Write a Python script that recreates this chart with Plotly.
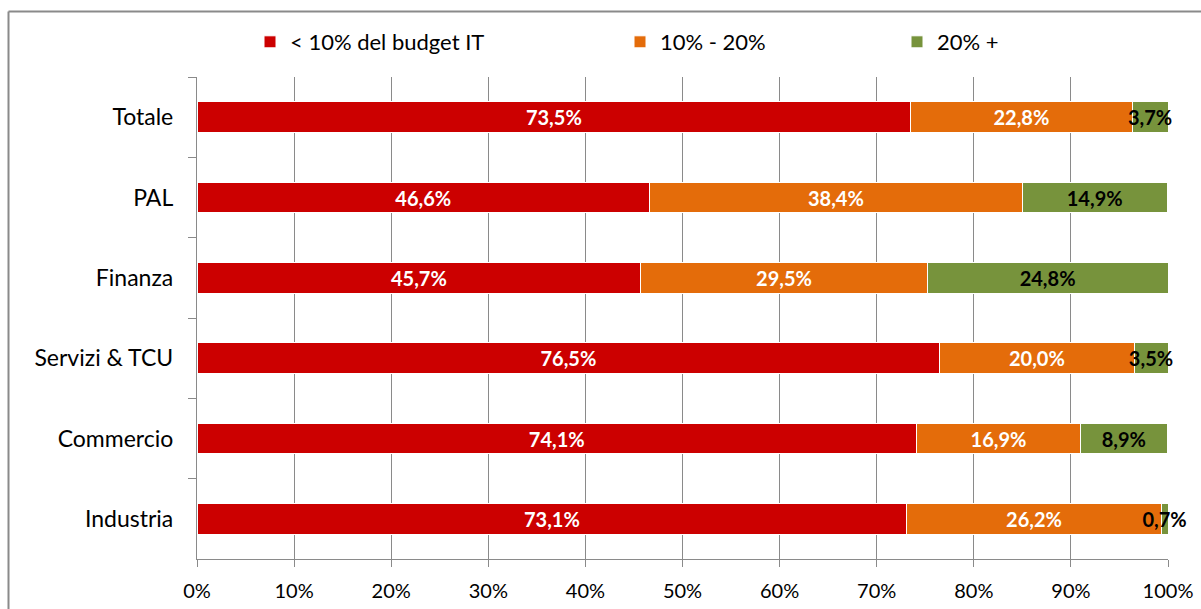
import plotly.graph_objects as go

categories = ["Totale", "PAL", "Finanza", "Servizi & TCU", "Commercio", "Industria"]
series_names = ["&lt; 10% del budget IT", "10% - 20%", "20% +"]
low = [73.5, 46.6, 45.7, 76.5, 74.1, 73.1]
mid = [22.8, 38.4, 29.5, 20.0, 16.9, 26.2]
high = [3.7, 14.9, 24.8, 3.5, 8.9, 0.7]
x_ticks = [0, 10, 20, 30, 40, 50, 60, 70, 80, 90, 100]
x_tick_labels = [f"{v}%" for v in x_ticks]

colors = ["#CC0000", "#E46C0A", "#77933C"]
text_colors = ["white", "white", "black"]
FONT = "Lato"

W, H = 1201, 609
L, R, T, B = 197, 33, 77, 50
pw, ph = W - L - R, H - T - B

def px_x(p):
    return (p - L) / pw

def px_y(p):
    return 1 + (T - p) / ph

def fmt(v):
    return f"{v:.1f}%".replace(".", ",")

fig = go.Figure()
legend_ids = ["legend", "legend2", "legend3"]
for name, vals, col, tc, lg in zip(series_names, [low, mid, high], colors, text_colors, legend_ids):
    fig.add_trace(go.Bar(
        y=categories, x=vals, name=name, orientation="h",
        marker=dict(color=col, line=dict(color="white", width=1)),
        text=[fmt(v) for v in vals], textposition="inside",
        insidetextanchor="middle", constraintext="none", textangle=0,
        textfont=dict(family=FONT, size=20, color=tc, weight="bold"),
        cliponaxis=False, legend=lg, showlegend=True,
    ))

legend_common = dict(orientation="h", yanchor="middle", xanchor="left",
                     font=dict(family=FONT, size=22, color="black"),
                     itemwidth=30, bgcolor="rgba(0,0,0,0)")
fig.update_layout(
    width=W, height=H, showlegend=True,
    margin=dict(l=L, r=R, t=T, b=B, autoexpand=False),
    barmode="stack", bargap=0.62,
    plot_bgcolor="white", paper_bgcolor="white",
    legend=dict(x=px_x(250), y=px_y(42), **legend_common),
    legend2=dict(x=px_x(620), y=px_y(42), **legend_common),
    legend3=dict(x=px_x(897), y=px_y(42), **legend_common),
    xaxis=dict(range=[0, 100], tickvals=x_ticks, ticktext=x_tick_labels,
               showgrid=True, gridcolor="#8a8a8a", gridwidth=1.3,
               showline=True, linecolor="#8a8a8a", linewidth=1.3,
               ticks="outside", ticklen=7, tickcolor="#8a8a8a", tickwidth=1.3,
               ticklabelstandoff=7,
               tickfont=dict(family=FONT, size=20, color="black"), zeroline=False,
               automargin=False),
    yaxis=dict(autorange="reversed", showline=True, linecolor="#8a8a8a", linewidth=1.3,
               ticks="outside", tickson="boundaries", ticklen=8, tickcolor="#8a8a8a",
               tickwidth=1.3, showgrid=False, automargin=False, ticklabelstandoff=18,
               tickfont=dict(family=FONT, size=23, color="black")),
    shapes=[
        dict(type="line", xref="paper", yref="paper", x0=px_x(8.5), x1=px_x(1215),
             y0=px_y(11.5), y1=px_y(11.5), line=dict(color="#8a8a8a", width=2)),
        dict(type="line", xref="paper", yref="paper", x0=px_x(8.5), x1=px_x(8.5),
             y0=px_y(11.5), y1=px_y(620), line=dict(color="#8a8a8a", width=2)),
    ],
)

fig.write_html("out.html", config={"displayModeBar": False},
               post_script="document.body.style.margin='0';document.body.style.overflow='hidden';")
